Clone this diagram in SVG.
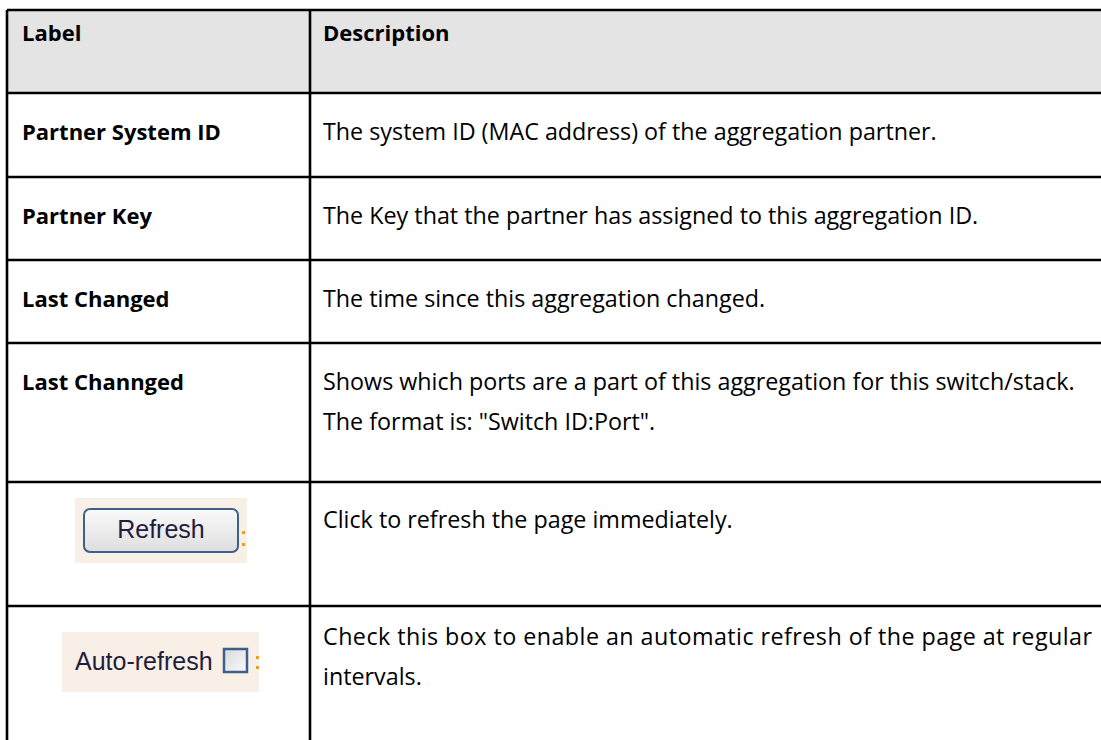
<svg xmlns="http://www.w3.org/2000/svg" width="1101" height="740" viewBox="0 0 1101 740">
<style>
.lbl{font-family:"Open Sans","Noto Sans",sans-serif;font-weight:bold;font-size:22px;fill:#000}
.desc{font-family:"Open Sans","Noto Sans",sans-serif;font-size:23.3px;fill:#000}
.grid{stroke:#000;stroke-width:2.6;fill:none}
.ui{font-family:"Liberation Sans",Arial,sans-serif;font-size:25px;fill:#231c3c}
.bg{fill:#f8f0e6}
.dot{fill:#e8a020}
</style>
<defs>
<linearGradient id="btn" x1="0" y1="0" x2="0" y2="1"><stop offset="0" stop-color="#fafafa"/><stop offset="1" stop-color="#dedede"/></linearGradient>
<linearGradient id="chk" x1="0" y1="0" x2="1" y2="1"><stop offset="0" stop-color="#d8d8d8"/><stop offset="1" stop-color="#fbfbfb"/></linearGradient>
</defs>
<rect x="0" y="0" width="1101" height="740" fill="#fff"/>
<g id="header">
<rect x="7" y="10" width="1094" height="83" fill="#e4e4e4"/>
<text class="lbl" x="22" y="41">Label</text>
<text class="lbl" x="323" y="41">Description</text>
</g>
<g id="grid" class="grid">
<line x1="7" y1="10" x2="1101" y2="10"/>
<line x1="7" y1="93" x2="1101" y2="93"/>
<line x1="7" y1="177" x2="1101" y2="177"/>
<line x1="7" y1="260" x2="1101" y2="260"/>
<line x1="7" y1="343" x2="1101" y2="343"/>
<line x1="7" y1="482" x2="1101" y2="482"/>
<line x1="7" y1="606" x2="1101" y2="606"/>
<line x1="7" y1="10" x2="7" y2="740"/>
<line x1="310" y1="10" x2="310" y2="740"/>
</g>
<g id="row-partner-system-id">
<text class="lbl" x="22" y="140">Partner System ID</text>
<text class="desc" x="323" y="140">The system ID (MAC address) of the aggregation partner.</text>
</g>
<g id="row-partner-key">
<text class="lbl" x="22" y="224">Partner Key</text>
<text class="desc" x="323" y="224">The Key that the partner has assigned to this aggregation ID.</text>
</g>
<g id="row-last-changed">
<text class="lbl" x="22" y="307">Last Changed</text>
<text class="desc" x="323" y="307">The time since this aggregation changed.</text>
</g>
<g id="row-last-channged">
<text class="lbl" x="22" y="390">Last Channged</text>
<text class="desc" x="323" y="390">Shows which ports are a part of this aggregation for this switch/stack.</text>
<text class="desc" x="323" y="430">The format is: "Switch ID:Port".</text>
</g>
<g id="row-refresh">
<rect class="bg" x="75" y="498" width="172" height="65"/>
<rect x="84" y="509" width="154" height="43" rx="6" fill="url(#btn)" stroke="#3d5f8c" stroke-width="2"/>
<text class="ui" x="161" y="538" text-anchor="middle">Refresh</text>
<rect class="dot" x="242" y="531" width="3" height="3"/>
<rect class="dot" x="242" y="543" width="3" height="3"/>
<text class="desc" x="323" y="528">Click to refresh the page immediately.</text>
</g>
<g id="row-auto-refresh">
<rect class="bg" x="62" y="632" width="197" height="60"/>
<text class="ui" x="75" y="670">Auto-refresh</text>
<rect x="224" y="649" width="23" height="23" fill="url(#chk)" stroke="#3d5f8c" stroke-width="2.5"/>
<rect class="dot" x="256" y="656" width="3" height="3"/>
<rect class="dot" x="256" y="666" width="3" height="3"/>
<text class="desc" x="323" y="645" textLength="769" lengthAdjust="spacing">Check this box to enable an automatic refresh of the page at regular</text>
<text class="desc" x="323" y="685">intervals.</text>
</g>
</svg>
